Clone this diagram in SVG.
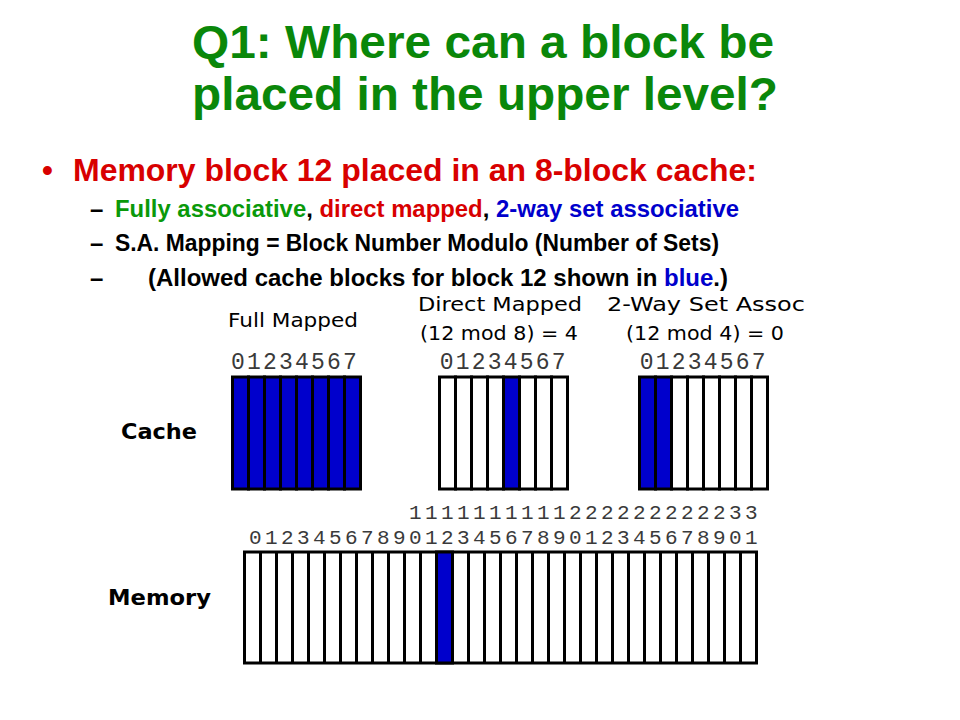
<svg xmlns="http://www.w3.org/2000/svg" width="960" height="720" viewBox="0 0 960 720">
<style>
.title{font-family:"Liberation Sans",Arial,sans-serif;font-weight:bold;font-size:47px;fill:#0a870a;text-anchor:middle}
.b1{font-family:"Liberation Sans",Arial,sans-serif;font-weight:bold;font-size:31px;fill:#d80000}
.b2{font-family:"Liberation Sans",Arial,sans-serif;font-weight:bold;font-size:24px;fill:#000}
.dig{font-family:"Liberation Mono","Courier New",monospace;font-size:23px;letter-spacing:2.2px;fill:#3a3a3a}
.digm{font-family:"Liberation Mono","Courier New",monospace;font-size:21px;letter-spacing:3.4px;fill:#3a3a3a}
.lbl{font-family:"DejaVu Sans",sans-serif;font-size:19px;fill:#000}
.lblb{font-family:"DejaVu Sans",sans-serif;font-size:21px;font-weight:bold;fill:#000}
.c{fill:#fff;stroke:#000;stroke-width:3}
.f{fill:#0000cc;stroke:#000;stroke-width:3}
</style>
<rect width="960" height="720" fill="#fff"/>
<g id="title">
<text class="title" x="483" y="58" textLength="582" lengthAdjust="spacingAndGlyphs">Q1: Where can a block be</text>
<text class="title" x="485" y="110" textLength="586" lengthAdjust="spacingAndGlyphs">placed in the upper level?</text>
</g>
<g id="bullets">
<text class="b1" x="42" y="181">•</text>
<text class="b1" x="73" y="181" textLength="684" lengthAdjust="spacingAndGlyphs">Memory block 12 placed in an 8-block cache:</text>
<text class="b2" x="90" y="217">–</text>
<text class="b2" x="115" y="217" textLength="624" lengthAdjust="spacingAndGlyphs"><tspan fill="#0a990a">Fully associative</tspan>, <tspan fill="#d80000">direct mapped</tspan>, <tspan fill="#0000cc">2-way set associative</tspan></text>
<text class="b2" x="90" y="251">–</text>
<text class="b2" x="115" y="251" textLength="604" lengthAdjust="spacingAndGlyphs">S.A. Mapping = Block Number Modulo (Number of Sets)</text>
<text class="b2" x="90" y="286">–</text>
<text class="b2" x="148" y="286" textLength="580" lengthAdjust="spacingAndGlyphs">(Allowed cache blocks for block 12 shown in <tspan fill="#0000cc">blue</tspan>.)</text>
</g>
<g id="labels">
<text class="lbl" x="228" y="327" textLength="130" lengthAdjust="spacingAndGlyphs">Full Mapped</text>
<text class="lbl" x="418" y="311" textLength="164" lengthAdjust="spacingAndGlyphs">Direct Mapped</text>
<text class="lbl" x="420" y="340" textLength="158" lengthAdjust="spacingAndGlyphs">(12 mod 8) = 4</text>
<text class="lbl" x="607" y="311" textLength="198" lengthAdjust="spacingAndGlyphs">2-Way Set Assoc</text>
<text class="lbl" x="626" y="340" textLength="158" lengthAdjust="spacingAndGlyphs">(12 mod 4) = 0</text>
<text class="lblb" x="121" y="439" textLength="76" lengthAdjust="spacingAndGlyphs">Cache</text>
<text class="lblb" x="108" y="605" textLength="103" lengthAdjust="spacingAndGlyphs">Memory</text>
</g>
<g id="cache-full">
<text class="dig" x="231" y="369">01234567</text>
<rect class="f" x="232.5" y="377" width="16" height="112"/>
<rect class="f" x="248.5" y="377" width="16" height="112"/>
<rect class="f" x="264.5" y="377" width="16" height="112"/>
<rect class="f" x="280.5" y="377" width="16" height="112"/>
<rect class="f" x="296.5" y="377" width="16" height="112"/>
<rect class="f" x="312.5" y="377" width="16" height="112"/>
<rect class="f" x="328.5" y="377" width="16" height="112"/>
<rect class="f" x="344.5" y="377" width="16" height="112"/>
</g>
<g id="cache-direct">
<text class="dig" x="439.8" y="369">01234567</text>
<rect class="c" x="439.5" y="377" width="16" height="112"/>
<rect class="c" x="455.5" y="377" width="16" height="112"/>
<rect class="c" x="471.5" y="377" width="16" height="112"/>
<rect class="c" x="487.5" y="377" width="16" height="112"/>
<rect class="f" x="503.5" y="377" width="16" height="112"/>
<rect class="c" x="519.5" y="377" width="16" height="112"/>
<rect class="c" x="535.5" y="377" width="16" height="112"/>
<rect class="c" x="551.5" y="377" width="16" height="112"/>
</g>
<g id="cache-2way">
<text class="dig" x="639.8" y="369">01234567</text>
<rect class="f" x="639.5" y="377" width="16" height="112"/>
<rect class="f" x="655.5" y="377" width="16" height="112"/>
<rect class="c" x="671.5" y="377" width="16" height="112"/>
<rect class="c" x="687.5" y="377" width="16" height="112"/>
<rect class="c" x="703.5" y="377" width="16" height="112"/>
<rect class="c" x="719.5" y="377" width="16" height="112"/>
<rect class="c" x="735.5" y="377" width="16" height="112"/>
<rect class="c" x="751.5" y="377" width="16" height="112"/>
</g>
<g id="memory">
<text class="digm" x="409" y="519">1111111111222222222233</text>
<text class="digm" x="249" y="544">01234567890123456789012345678901</text>
<rect class="c" x="244.5" y="552" width="512" height="111"/>
<path d="M260.5 552V663M276.5 552V663M292.5 552V663M308.5 552V663M324.5 552V663M340.5 552V663M356.5 552V663M372.5 552V663M388.5 552V663M404.5 552V663M420.5 552V663M436.5 552V663M452.5 552V663M468.5 552V663M484.5 552V663M500.5 552V663M516.5 552V663M532.5 552V663M548.5 552V663M564.5 552V663M580.5 552V663M596.5 552V663M612.5 552V663M628.5 552V663M644.5 552V663M660.5 552V663M676.5 552V663M692.5 552V663M708.5 552V663M724.5 552V663M740.5 552V663" stroke="#000" stroke-width="3" fill="none"/>
<rect class="f" x="436.5" y="552" width="16" height="111"/>
</g>
</svg>
